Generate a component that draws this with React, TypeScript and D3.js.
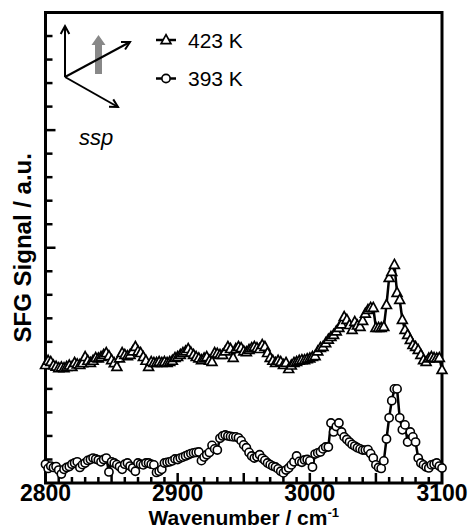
import React, { useRef, useEffect } from 'react';
import * as d3 from 'd3';

// wavenumbers, 2 cm-1 step
const wavenumbers = d3.range(2800, 3101, 2);

// SFG signal (a.u.), 423 K
const signal423 = [
  5.02, 5.2, 5.15, 5.0, 4.95, 4.89, 4.92, 4.89, 4.94, 5.0,
  4.94, 5.11, 5.05, 5.02, 5.1, 5.36, 5.2, 5.11, 5.2, 5.32,
  5.3, 5.36, 5.45, 5.53, 5.4, 5.23, 5.1, 4.94, 5.3, 5.53,
  5.45, 5.4, 5.45, 5.6, 5.79, 5.6, 5.53, 5.36, 5.2, 4.94,
  5.15, 5.11, 5.11, 5.15, 5.11, 5.15, 5.11, 5.15, 5.2, 5.32,
  5.36, 5.45, 5.53, 5.6, 5.7, 5.55, 5.45, 5.36, 5.3, 5.23,
  5.3, 5.36, 5.2, 5.15, 5.53, 5.5, 5.45, 5.45, 5.6, 5.79,
  5.7, 5.32, 5.7, 5.79, 5.74, 5.6, 5.57, 5.66, 5.74, 5.79,
  5.74, 5.7, 5.87, 5.79, 5.53, 5.32, 5.2, 5.11, 5.2, 5.15,
  5.02, 5.11, 4.85, 5.0, 5.11, 5.15, 5.2, 5.23, 5.23, 5.27,
  5.3, 5.36, 5.4, 5.6, 5.75, 5.79, 5.95, 6.1, 6.21, 6.3,
  6.45, 6.6, 6.75, 7.06, 6.94, 6.72, 6.51, 6.85, 6.7, 6.64,
  6.9, 7.2, 7.36, 7.45, 7.45, 6.6, 6.6, 6.6, 6.64, 7.57,
  8.72, 8.98, 9.28, 8.09, 7.79, 6.94, 6.51, 6.3, 6.09, 5.87,
  5.79, 5.66, 5.45, 5.23, 5.15, 5.3, 5.36, 5.32, 5.3, 5.32,
  4.81,
];

// SFG signal (a.u.), 393 K
const signal393 = [
  0.8, 0.62, 0.72, 0.66, 0.7, 0.55, 0.38, 0.58, 0.66, 0.7,
  0.8, 0.85, 0.9, 0.66, 0.78, 0.85, 0.96, 1.0, 1.06, 1.02,
  0.98, 0.9, 1.0, 1.06, 0.47, 0.9, 0.85, 0.78, 0.7, 0.58,
  0.8, 0.85, 0.72, 0.64, 0.5, 0.85, 0.8, 0.77, 0.85, 0.85,
  0.8, 0.77, 0.45, 0.5, 0.58, 0.85, 0.88, 0.9, 0.94, 1.02,
  1.0, 1.06, 1.1, 1.15, 1.2, 1.25, 1.28, 1.3, 1.32, 0.95,
  1.1, 1.2, 1.3, 1.6, 1.45, 1.4, 1.9, 2.0, 2.04, 2.0,
  1.98, 1.96, 1.96, 1.92, 1.8, 1.62, 1.5, 1.3, 1.15, 1.06,
  1.12, 1.2, 1.05, 0.96, 0.85, 0.78, 0.72, 0.68, 0.6, 0.5,
  0.43, 0.55, 0.64, 0.77, 0.9, 1.15, 0.92, 0.88, 0.98, 1.0,
  0.94, 0.68, 1.23, 1.28, 1.32, 1.45, 1.53, 1.53, 2.55, 2.17,
  2.4, 2.55, 2.17, 1.96, 1.85, 1.74, 1.64, 1.57, 1.5, 1.45,
  1.4, 1.4, 1.42, 1.25, 1.06, 0.77, 0.66, 0.62, 0.94, 1.87,
  2.77, 3.5, 4.0, 4.0, 2.77, 2.26, 2.47, 1.74, 2.17, 1.96,
  1.74, 1.06, 0.85, 0.77, 0.68, 0.64, 0.77, 0.8, 0.85, 0.72,
  0.64,
];

const xTickLabels = [2800, 2900, 3000, 3100];
const seriesLabels = ['423 K', '393 K'];
const seriesMarkers = ['triangle', 'circle'];

const FONT = 'Liberation Sans, Arial, sans-serif';

const App = () => {
  const svgRef = useRef(null);

  useEffect(() => {
    const W = 472;
    const H = 531;
    const left = 45.5;
    const right = 442;
    const top = 12.5;
    const bottom = 483;

    const svg = d3.select(svgRef.current);
    svg.selectAll('*').remove();
    svg.attr('width', W).attr('height', H);

    const x = d3.scaleLinear().domain([2800, 3100]).range([left, right]);
    const y = d3.scaleLinear().domain([0, 20]).range([bottom, top]);

    // ticks (inward)
    const bottomTicks = d3.range(2810, 3100, 10);
    svg
      .append('g')
      .selectAll('line')
      .data(bottomTicks)
      .join('line')
      .attr('x1', (d) => x(d))
      .attr('x2', (d) => x(d))
      .attr('y1', bottom)
      .attr('y2', (d) => bottom - (d % 50 === 0 ? 10 : 6))
      .attr('stroke', '#000')
      .attr('stroke-width', 2.5);

    const leftTicks = d3.range(1, 20, 1);
    svg
      .append('g')
      .selectAll('line')
      .data(leftTicks)
      .join('line')
      .attr('x1', left)
      .attr('x2', (d) => left + (d % 5 === 0 ? 10 : 7))
      .attr('y1', (d) => y(d))
      .attr('y2', (d) => y(d))
      .attr('stroke', '#000')
      .attr('stroke-width', 2.5);

    // frame
    svg
      .append('rect')
      .attr('x', left)
      .attr('y', top)
      .attr('width', right - left)
      .attr('height', bottom - top)
      .attr('fill', 'none')
      .attr('stroke', '#000')
      .attr('stroke-width', 3);

    // tick labels
    svg
      .append('g')
      .selectAll('text')
      .data(xTickLabels)
      .join('text')
      .attr('x', (d) => x(d))
      .attr('y', 501)
      .attr('text-anchor', 'middle')
      .attr('font-family', FONT)
      .attr('font-weight', 'bold')
      .attr('font-size', 23)
      .text((d) => d);

    // axis titles
    const xt = svg
      .append('text')
      .attr('x', (left + right) / 2)
      .attr('y', 525)
      .attr('text-anchor', 'middle')
      .attr('font-family', FONT)
      .attr('font-weight', 'bold')
      .attr('font-size', 21);
    xt.append('tspan').text('Wavenumber / cm');
    xt.append('tspan').attr('dy', -8).attr('font-size', 13).text('-1');

    svg
      .append('text')
      .attr('transform', `translate(31, ${(top + bottom) / 2}) rotate(-90)`)
      .attr('text-anchor', 'middle')
      .attr('font-family', FONT)
      .attr('font-weight', 'bold')
      .attr('font-size', 24)
      .text('SFG Signal / a.u.');

    const triPath = (cx, cy) =>
      `M${cx},${cy - 5.3}L${cx + 4.9},${cy + 3.6}L${cx - 4.9},${cy + 3.6}Z`;

    const drawMarkers = (g, pts, kind) => {
      if (kind === 'triangle') {
        g.selectAll('path.m')
          .data(pts)
          .join('path')
          .attr('class', 'm')
          .attr('d', (d) => triPath(d[0], d[1]))
          .attr('fill', '#fff')
          .attr('stroke', '#000')
          .attr('stroke-width', 1.7);
      } else {
        g.selectAll('circle.m')
          .data(pts)
          .join('circle')
          .attr('class', 'm')
          .attr('cx', (d) => d[0])
          .attr('cy', (d) => d[1])
          .attr('r', 4.1)
          .attr('fill', '#fff')
          .attr('stroke', '#000')
          .attr('stroke-width', 1.6);
      }
    };

    const line = d3.line();
    [signal423, signal393].forEach((vals, i) => {
      const pts = wavenumbers.map((w, j) => [x(w), y(vals[j])]);
      const g = svg.append('g');
      g.append('path')
        .attr('d', line(pts))
        .attr('fill', 'none')
        .attr('stroke', '#000')
        .attr('stroke-width', 2.5)
        .attr('stroke-linejoin', 'round');
      drawMarkers(g, pts, seriesMarkers[i]);
    });

    // legend
    seriesLabels.forEach((lab, i) => {
      const ly = 40 + i * 38.5;
      const g = svg.append('g');
      g.append('line')
        .attr('x1', 156)
        .attr('x2', 176)
        .attr('y1', ly)
        .attr('y2', ly)
        .attr('stroke', '#000')
        .attr('stroke-width', 2.5);
      drawMarkers(g, [[166, ly]], seriesMarkers[i]);
      g.append('text')
        .attr('x', 188)
        .attr('y', ly + 7.5)
        .attr('font-family', FONT)
        .attr('font-size', 21)
        .text(lab);
    });

    // polarisation inset
    const arrow = (x1, y1, x2, y2) => {
      const a = Math.atan2(y2 - y1, x2 - x1);
      const hl = 9;
      const sp = 0.5;
      const g = svg.append('g').attr('stroke', '#000').attr('stroke-width', 2).attr('fill', 'none');
      g.append('line').attr('x1', x1).attr('y1', y1).attr('x2', x2).attr('y2', y2);
      g.append('path').attr(
        'd',
        `M${x2 - hl * Math.cos(a - sp)},${y2 - hl * Math.sin(a - sp)}L${x2},${y2}L${
          x2 - hl * Math.cos(a + sp)
        },${y2 - hl * Math.sin(a + sp)}`
      );
    };
    const ox = 65;
    const oy = 77;
    svg
      .append('path')
      .attr('d', 'M95,74L95,45L91.5,45L98.5,35L105.5,45L102,45L102,74Z')
      .attr('fill', '#888');
    arrow(ox, oy, ox, 26);
    arrow(ox, oy, 130, 42);
    arrow(ox, oy, 118, 107);

    svg
      .append('text')
      .attr('x', 79)
      .attr('y', 145)
      .attr('font-family', FONT)
      .attr('font-style', 'italic')
      .attr('font-size', 22)
      .text('ssp');
  }, []);

  return (
    <svg ref={svgRef} style={{ position: 'absolute', left: 0, top: 0, background: '#fff' }}></svg>
  );
};

export default App;
